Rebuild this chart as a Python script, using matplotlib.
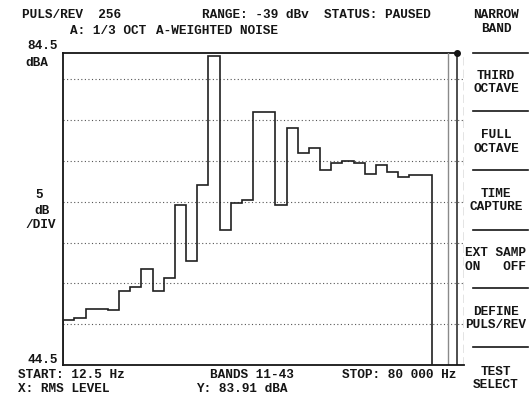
import numpy as np
import matplotlib
matplotlib.use("Agg")
import matplotlib.pyplot as plt

# 1/3 octave bands 11..43, A-weighted level (dBA)
bands = np.arange(11, 44)
levels = [50.0, 50.2, 51.4, 51.4, 51.2, 53.6, 54.0, 56.3, 53.6, 55.2,
          64.1, 57.2, 66.5, 82.4, 61.0, 64.3, 64.7, 75.5, 75.5, 64.1,
          73.5, 70.5, 71.1, 68.4, 69.2, 69.5, 69.3, 67.9, 69.0, 68.1,
          67.6, 67.8, 67.8]

grid_levels = [49.5, 54.5, 59.5, 64.5, 69.5, 74.5, 79.5]
cursor_a = 44.97
cursor_b = 45.73

header = ["PULS/REV  256", "RANGE: -39 dBv  STATUS: PAUSED"]
softkeys = [("NARROW", "BAND"), ("THIRD", "OCTAVE"), ("FULL", "OCTAVE"),
            ("TIME", "CAPTURE"), ("EXT SAMP", "ON   OFF"),
            ("DEFINE", "PULS/REV"), ("TEST", "SELECT")]

W, H = 531, 395
ink = "#151515"
font = dict(family="Liberation Mono", size=9.2, color=ink, weight="bold")

fig = plt.figure(figsize=(W / 100, H / 100), dpi=100)
ax = fig.add_axes([63.3 / W, 30 / H, (464 - 63.3) / W, (365 - 53.3) / H])

ymin, ymax = 44.5, 82.7
xmin, xmax = 10.5, 46.4
ax.set_xlim(xmin, xmax)
ax.set_ylim(ymin, ymax)

edges = np.append(bands - 0.5, bands[-1] + 0.5)
ax.stairs(levels, edges, baseline=ymin, color="#202020", lw=1.2, zorder=3)

for g in grid_levels:
    ax.axhline(g, color="#555555", lw=0.8, ls=(0, (1, 2.2)), zorder=1)

# frame
for s in ["top", "right"]:
    ax.spines[s].set_visible(False)
for s in ["left", "bottom"]:
    ax.spines[s].set_color(ink)
    ax.spines[s].set_linewidth(1.3)
ax.plot([xmin, cursor_b], [ymax, ymax], color=ink, lw=1.3, clip_on=False)
ax.axvline(cursor_a, color="#8a8a8a", lw=1.0)
ax.axvline(cursor_b, color="#303030", lw=1.2)
ax.axvline(xmax, color="#777777", lw=1.0, ls=(0, (6, 3)))
ax.plot([cursor_b], [ymax], "o", color=ink, ms=4, clip_on=False, zorder=5)
ax.set_xticks([])
ax.set_yticks([])


def put(x, y, s, ha="left"):
    fig.text(x / W, 1 - y / H, s, ha=ha, va="center", **font)


put(22, 15, header[0])
put(202, 15, header[1])
put(70, 31, "A: 1/3 OCT")
put(156, 31, "A-WEIGHTED NOISE")

put(58, 46, "84.5", ha="right")
put(37, 63, "dBA", ha="center")
put(39, 195, "5", ha="center")
put(42, 211, "dB", ha="center")
put(41, 225, "/DIV", ha="center")
put(58, 360, "44.5", ha="right")

put(18, 375, "START: 12.5 Hz")
put(210, 375, "BANDS 11-43")
put(342, 375, "STOP: 80 000 Hz")
put(18, 389, "X: RMS LEVEL")
put(196, 389, "Y: 83.91 dBA")

# softkey column
key_tops = [15, 76, 135, 194, 253, 312, 372]
for (l1, l2), yk in zip(softkeys, key_tops):
    if l1.startswith("EXT"):
        put(465, yk, l1)
        put(465, yk + 13.5, l2)
    else:
        put(496, yk, l1, ha="center")
        put(496, yk + 13.5, l2, ha="center")

for ys in [53, 111, 170, 230, 288, 347]:
    fig.add_artist(plt.Line2D([473 / W, 528 / W], [1 - ys / H, 1 - ys / H],
                              color=ink, lw=1.2))

fig.savefig("out.png", dpi=100, facecolor="white")
